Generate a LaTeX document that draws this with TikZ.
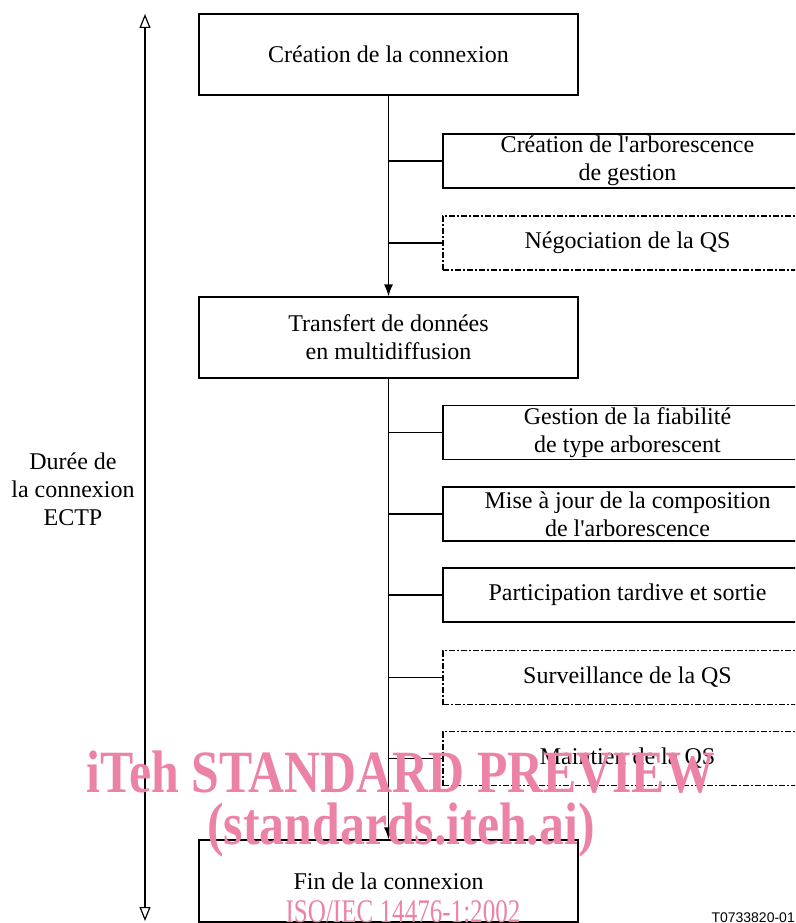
\documentclass[tikz,border=0pt]{standalone}
\usepackage{fontspec}
\setmainfont{Liberation Serif}[Ligatures=TeXOff]
\newfontfamily\labelsans{Liberation Sans}
\usetikzlibrary{arrows.meta}
\definecolor{wmpink}{RGB}{236,130,166}
\tikzset{
  box/.style={draw, line width=1.2pt, rectangle, inner sep=0pt, align=center,
    font=\fontsize{24}{28}\selectfont},
  mainbox/.style={box, minimum width=379pt, minimum height=81pt},
  sidebox/.style={box, minimum width=369pt, minimum height=54pt},
  optbox/.style={sidebox, dash pattern=on 6pt off 2pt on 2pt off 2pt},
  flow/.style={line width=1.2pt, -{Latex[length=12pt,width=9pt]}},
  branch/.style={line width=1.2pt},
  span/.style={line width=1.2pt, {Triangle[open,length=14pt,width=11pt]}-{Triangle[open,length=14pt,width=11pt]}},
  watermark/.style={text=wmpink, inner sep=0pt},
}
\begin{document}
\begin{tikzpicture}[x=1pt,y=-1pt]
\useasboundingbox (0,0) rectangle (795,923);
\clip (0,0) rectangle (795,923);
% main boxes
\node[mainbox] (b1) at (388.5,54.5) {Création de la connexion};
\node[mainbox] (b2) at (388.5,337.5) {Transfert de données\\en multidiffusion};
\node[mainbox, minimum height=82pt] (b3) at (388.5,881) {Fin de la connexion};
% side boxes
\node[sidebox] (s1) at (627.5,161) {Création de l'arborescence\\de gestion};
\node[optbox]  (s2) at (627.5,243) {Négociation de la QS};
\node[sidebox] (s3) at (627.5,432.5) {Gestion de la fiabilité\\de type arborescent};
\node[sidebox] (s4) at (627.5,514) {Mise à jour de la composition\\de l'arborescence};
\node[sidebox] (s5) at (627.5,595) {Participation tardive et sortie};
\node[optbox]  (s6) at (627.5,677.5) {Surveillance de la QS};
\node[optbox]  (s7) at (627.5,758.5) {Maintien de la QS};
% flow
\draw[flow] (b1) -- (b2);
\draw[flow] (b2) -- (b3);
\foreach \s/\m in {s1/b1,s2/b1,s3/b2,s4/b2,s5/b2,s6/b2,s7/b2}
  \draw[branch] (\s.west) -- (\s.west -| \m.south);
% duration arrow
\coordinate (dtop) at (145,14);
\coordinate (dbot) at (145,921);
\draw[span] (dtop) -- (dbot);
\node[align=center, font=\fontsize{24}{28}\selectfont, fill=white, inner sep=2pt] (dur) at (73,489) {Durée de\\la connexion\\ECTP};
% figure id
\node[anchor=south east, inner sep=0pt, font=\labelsans\fontsize{14}{16}\selectfont] (fid) at (795,923) {T0733820-01};
% watermark
\node[watermark, xscale=0.83, font=\bfseries\fontsize{60}{60}\selectfont] (wm1) at (401,772) {iTeh STANDARD PREVIEW};
\node[watermark, xscale=0.83, font=\bfseries\fontsize{60}{60}\selectfont] (wm2) at (401,830) {(standards.iteh.ai)};
\node[watermark, xscale=0.76, font=\fontsize{33}{36}\selectfont] (wm3) at (403,912) {ISO/IEC 14476-1:2002};
\end{tikzpicture}
\end{document}
